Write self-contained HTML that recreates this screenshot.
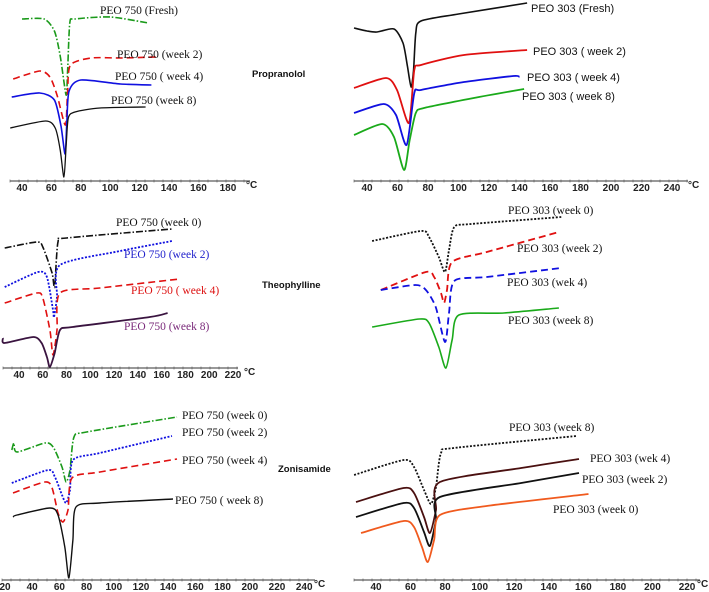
<!DOCTYPE html>
<html><head><meta charset="utf-8"><style>
html,body{margin:0;padding:0;background:#fff;}
svg{display:block;}
.ser{font-family:"Liberation Serif",serif;font-size:11.5px;}
.san{font-family:"Liberation Sans",sans-serif;font-size:11px;}
.tk{font-family:"Liberation Sans",sans-serif;font-size:10px;font-weight:bold;fill:#222;}
.drug{font-family:"Liberation Sans",sans-serif;font-size:9.5px;font-weight:bold;}
</style></head><body>
<svg id="c" width="709" height="592" viewBox="0 0 709 592"></svg>
<script>
// ---- Data: temperature (°C) and heat-flow signal (a.u.) ----
// Panel A: PEO 750 propranolol
const aFreshT=[40,55,62,66,70,71,72.5,76,100,126];
const aFreshS=[162,162,150,125,86,110,158,162,164,158];
const aW2T=[34,52,59,64,69.5,71,73,87,107,131];
const aW2S=[102,110,104,85,56,90,116,123,123,124];
const aW4T=[33,52,62,66.5,69.3,70.5,72,80,107,128];
const aW4S=[84,88,81,55,27,60,90,101,97,96];
const aW8T=[32,56,62.6,66,68.5,70,71.5,76,93,124];
const aW8S=[53,60,53,31,4,35,63,69,73,74];
// Panel B: PEO 303 propranolol
const bFreshT=[31.5,40,46.5,57.7,63.6,66.5,68.9,70.5,72,75.4,100,145];
const bFreshS=[153,150,149,152,138,115,94,110,148,160,167,178];
const bW2T=[31.5,52.5,59.7,67.5,71,75.4,103.6,145];
const bW2S=[93,103,91,58,111,116,126,131];
const bW4T=[31.5,51,59,66,71,75.4,103.6,136,140];
const bW4S=[68,77,66,36,88,91,99,105,104];
const bW8T=[31.5,50,57.7,64.3,68,72,77.4,110,143];
const bW8S=[46,57,44,11,41,68,73,83,92];
// Panel C: PEO 750 theophylline
const cW0T=[28,55,60,67.8,70,72.8,80,168.7];
const cW0S=[120,126,121,95,81,126,130,139];
const cW2T=[28,56,63.5,68.6,69.4,72,74.5,125,168.7];
const cW2S=[81,96,91,58,51,71,103,117,127];
const cW4T=[28,55,60,66,68.6,72,74.5,108,175];
const cW4S=[65,75,70,38,13,38,75,80,89];
const cW8T=[26.5,28,52,59,63.5,66,70,74.5,85,150,165];
const cW8S=[30,25,31,25,11,1,15,38,41,51,55];
// Panel D: PEO 303 theophylline
const dW0T=[25,56.6,61.7,68,72,74.6,78,88.8,147];
const dW0S=[131,141,135,115,100,122,145,148,155];
const dW2T=[30.6,59.7,65,69.4,71.4,73.3,76.6,99,145.5];
const dW2S=[82,100,95,79,69,82,110,120,140];
const dW4T=[30.6,53,59.7,66,72,74.6,78,99,147];
const dW4S=[82,87,82,65,30,59,91,95,104];
const dW8T=[25,55.5,61.7,68,72.6,76.6,81,110,145.5];
const dW8S=[45,53,49,25,4,32,57,59,64];
// Panel E: PEO 750 zonisamide
const eW0T=[25,26.6,28.8,49.4,55.4,61.9,64.9,67.8,70.7,80,146.5];
const eW0S=[130,137,128,137,133,113,98,110,143,148,163];
const eW2T=[25,51.6,56.7,61.9,64.9,67.8,70,89.8,142.8];
const eW2S=[97,110,103,85,77,90,120,127,144];
const eW4T=[25.9,49.4,54.6,59,62.6,66.3,69.3,89.8,146.5];
const eW4S=[87,98,92,67,58,70,102,108,121];
const eW8T=[25.9,28.8,53,59,64,67,69.9,72.2,89.8,143.5];
const eW8S=[63,65,72,65,33,2,40,73,77,81];
// Panel F: PEO 303 zonisamide
const fW8T=[27.3,56,62,67.8,71.8,74.7,77.6,85,156];
const fW8S=[105,120,113,90,76,93,127,132,144];
const fW4T=[28.4,56,62,67.8,71.2,74.7,77,124,157.5];
const fW4S=[78,92,87,63,47,70,98,112,121];
const fW2T=[28.4,56,62,67.8,71.2,74.7,77,124,157.5];
const fW2S=[63,77,72,48,34,60,83,97,107];
const fW0T=[31.3,56,62,66.6,70,73.6,77,104,163];
const fW0S=[47,59,53,33,18,40,65,74,86];
// Tick labels
const ticksA=[40,60,80,100,120,140,160,180];
const ticksB=[40,60,80,100,120,140,160,180,200,220,240];
const ticksC=[40,60,80,100,120,140,160,180,200,220];
const ticksE=[20,40,60,80,100,120,140,160,180,200,220,240];
const ticksF=[40,60,80,100,120,140,160,180,200,220];

const NS="http://www.w3.org/2000/svg";
const svg=document.getElementById('c');
function mk(tag,attrs,parent){const e=document.createElementNS(NS,tag);for(const k in attrs)e.setAttribute(k,attrs[k]);(parent||svg).appendChild(e);return e;}
function axes(x0,t0,k,base){return{x:t=>x0+(t-t0)*k,y:s=>base-s};}
const pA=axes(22,40,1.471,181), pB=axes(367,40,1.525,181), pC=axes(19,40,1.189,368),
      pD=axes(395.4,40,1.55,372), pE=axes(5,20,1.36,580), pF=axes(376,40,1.728,580);

function curve(ax,T,S,color,dash,name,w){
  const p=T.map((t,i)=>[ax.x(t),ax.y(S[i])]);
  let d='M'+p[0][0].toFixed(1)+','+p[0][1].toFixed(1);
  const f=8;
  for(let i=0;i<p.length-1;i++){
    const p0=p[i-1]||p[i],p1=p[i],p2=p[i+1],p3=p[i+2]||p[i+1];
    const c1=[p1[0]+(p2[0]-p0[0])/f,p1[1]+(p2[1]-p0[1])/f];
    const c2=[p2[0]-(p3[0]-p1[0])/f,p2[1]-(p3[1]-p1[1])/f];
    d+=' C'+c1.map(v=>v.toFixed(1))+' '+c2.map(v=>v.toFixed(1))+' '+p2.map(v=>v.toFixed(1));
  }
  const e=mk('path',{d:d,fill:'none',stroke:color,'stroke-width':w||1.6,'stroke-dasharray':dash||'none','stroke-linejoin':'round'});
  
  
}
function axis(ax,ticks,x1,x2,base,ly,cx,name){
  const g=mk('g',{});
  
  
  mk('line',{x1:x1,x2:x2,y1:base,y2:base,stroke:'#333','stroke-width':1.1},g);
  for(let x=x1;x<=x2;x+=9)mk('line',{x1:x,x2:x,y1:base-1.5,y2:base+1.5,stroke:'#555','stroke-width':0.6},g);
  ticks.forEach(t=>{const e=mk('text',{x:ax.x(t),y:ly,'text-anchor':'middle',class:'tk'},g);e.textContent=t;
    
    });
  const u=mk('text',{x:cx,y:ly-3,class:'tk','font-weight':'normal','font-size':'11'},g);u.textContent='°C';
}
function label(x,y,txt,cls,color,name){
  const e=mk('text',{x:x,y:y,class:cls,fill:color||'#111'});e.textContent=txt;
  
  
}
const DD='7,2,1.5,2', DA='7,4', DO='2,1.6';
// Panel A
curve(pA,aFreshT,aFreshS,'#1a9a1a',DD,'curve-a-fresh');
curve(pA,aW2T,aW2S,'#e01010',DA,'curve-a-week2');
curve(pA,aW4T,aW4S,'#1010e0','','curve-a-week4');
curve(pA,aW8T,aW8S,'#111','','curve-a-week8',1.3);
axis(pA,ticksA,10,250,181,191,246,'x-axis-a');
label(100,14,'PEO 750 (Fresh)','ser','#111','label-a-fresh');
label(117,58,'PEO 750 (week 2)','ser','#111','label-a-week2');
label(115,80,'PEO 750 ( week 4)','ser','#111','label-a-week4');
label(111,104,'PEO 750 (week 8)','ser','#111','label-a-week8');
label(252,77,'Propranolol','drug','#111','drug-label-propranolol');
// Panel B
curve(pB,bFreshT,bFreshS,'#111','','curve-b-fresh');
curve(pB,bW2T,bW2S,'#e01010','','curve-b-week2',1.8);
curve(pB,bW4T,bW4S,'#1010e0','','curve-b-week4',1.8);
curve(pB,bW8T,bW8S,'#1aaa1a','','curve-b-week8',1.8);
axis(pB,ticksB,354,688,181,191,688,'x-axis-b');
label(531,12,'PEO 303 (Fresh)','san','#111','label-b-fresh');
label(533,55,'PEO 303 ( week 2)','san','#111','label-b-week2');
label(527,81,'PEO 303 ( week 4)','san','#111','label-b-week4');
label(522,100,'PEO 303 ( week 8)','san','#111','label-b-week8');
// Panel C
curve(pC,cW0T,cW0S,'#111',DD,'curve-c-week0');
curve(pC,cW2T,cW2S,'#1010e0',DO,'curve-c-week2',1.8);
curve(pC,cW4T,cW4S,'#e01010',DA,'curve-c-week4');
curve(pC,cW8T,cW8S,'#3a1440','','curve-c-week8',1.8);
axis(pC,ticksC,3,238,368,378,244,'x-axis-c');
label(116,226,'PEO 750 (week 0)','ser','#111','label-c-week0');
label(124,258,'PEO 750 (week 2)','ser','#2222cc','label-c-week2');
label(131,294,'PEO 750 ( week 4)','ser','#dd1111','label-c-week4');
label(124,330,'PEO 750 (week 8)','ser','#7a2a7a','label-c-week8');
label(262,288,'Theophylline','drug','#111','drug-label-theophylline');
// Panel D
curve(pD,dW0T,dW0S,'#111',DO,'curve-d-week0',1.8);
curve(pD,dW2T,dW2S,'#e01010',DA,'curve-d-week2',1.8);
curve(pD,dW4T,dW4S,'#1010e0',DA,'curve-d-week4',1.8);
curve(pD,dW8T,dW8S,'#1aaa1a','','curve-d-week8',1.6);
label(508,214,'PEO 303 (week 0)','ser','#111','label-d-week0');
label(517,252,'PEO 303 (week 2)','ser','#111','label-d-week2');
label(507,286,'PEO 303 (wek 4)','ser','#111','label-d-week4');
label(508,324,'PEO 303 (week 8)','ser','#111','label-d-week8');
// Panel E
curve(pE,eW0T,eW0S,'#1a9a1a',DD,'curve-e-week0');
curve(pE,eW2T,eW2S,'#1010e0',DO,'curve-e-week2',1.8);
curve(pE,eW4T,eW4S,'#e01010',DA,'curve-e-week4');
curve(pE,eW8T,eW8S,'#111','','curve-e-week8',1.4);
axis(pE,ticksE,2,315,580,590,314,'x-axis-e');
label(182,419,'PEO 750 (week 0)','ser','#111','label-e-week0');
label(182,436,'PEO 750 (week 2)','ser','#111','label-e-week2');
label(182,464,'PEO 750 (week 4)','ser','#111','label-e-week4');
label(175,504,'PEO 750 ( week 8)','ser','#111','label-e-week8');
label(278,472,'Zonisamide','drug','#111','drug-label-zonisamide');
// Panel F
curve(pF,fW8T,fW8S,'#111',DO,'curve-f-week8',1.8);
curve(pF,fW4T,fW4S,'#4a1010','','curve-f-week4',1.8);
curve(pF,fW2T,fW2S,'#111','','curve-f-week2',1.8);
curve(pF,fW0T,fW0S,'#f05a1e','','curve-f-week0',1.8);
axis(pF,ticksF,354,700,580,590,697,'x-axis-f');
label(509,431,'PEO 303 (week 8)','ser','#111','label-f-week8');
label(590,462,'PEO 303 (wek 4)','ser','#111','label-f-week4');
label(582,483,'PEO 303 (week 2)','ser','#111','label-f-week2');
label(553,513,'PEO 303 (week 0)','ser','#111','label-f-week0');
</script>
</body></html>
